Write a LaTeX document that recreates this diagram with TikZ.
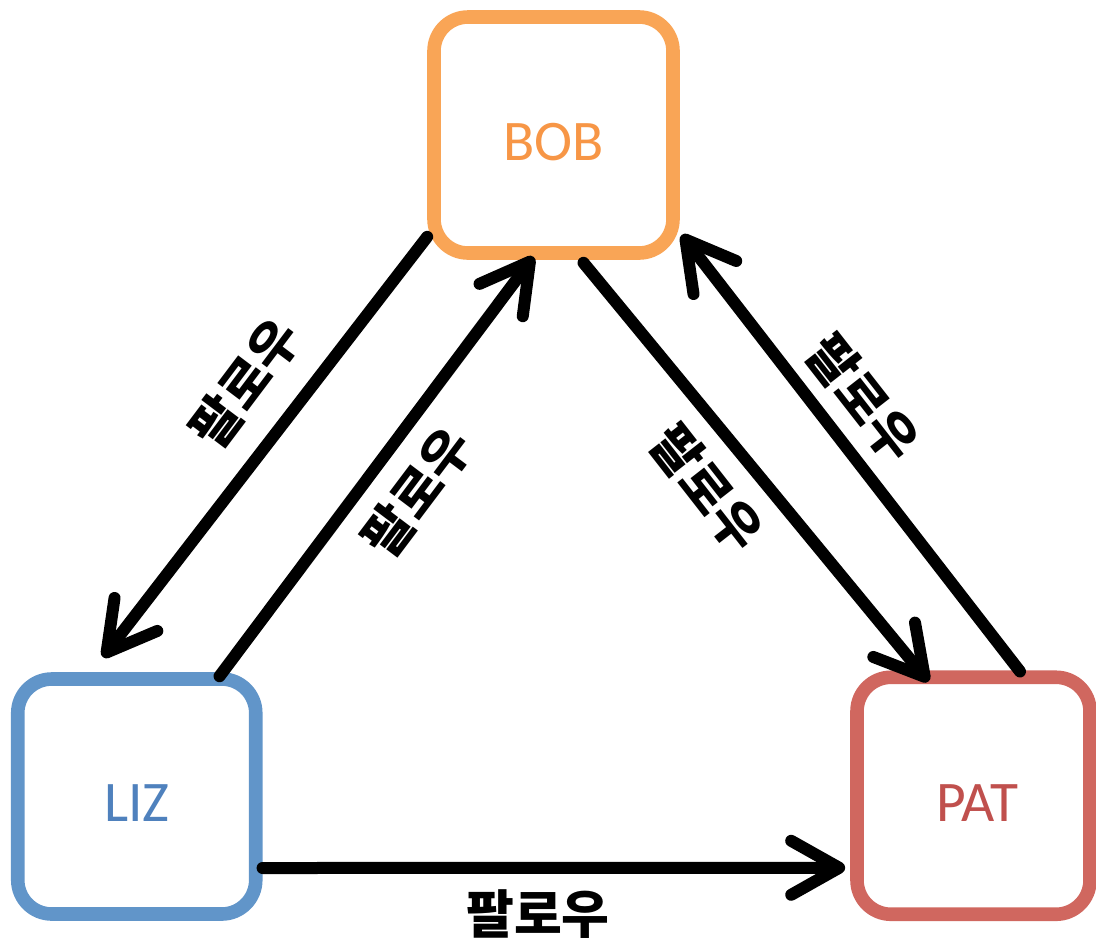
\documentclass[tikz,border=0pt]{standalone}
\usepackage{fontspec}
\setmainfont{Carlito}
\newfontfamily\kr{Noto Sans CJK KR}
\usetikzlibrary{arrows.meta,calc}
\definecolor{bobline}{HTML}{F9A556}
\definecolor{bobtext}{HTML}{F79646}
\definecolor{lizline}{HTML}{6195C9}
\definecolor{liztext}{HTML}{4F81BD}
\definecolor{patline}{HTML}{D0675F}
\definecolor{pattext}{HTML}{C0504D}
\tikzset{
  person/.style={draw, rectangle, rounded corners=17pt, line width=6.8pt, fill=white, inner sep=0pt},
  who/.style={font=\fontsize{28.7pt}{30pt}\selectfont, yshift=-3.5pt},
  rel/.style={line width=6pt, black, line cap=round,
    -{Straight Barb[length=24pt, width=27pt, line cap=round, line join=round]}},
  follow/.style={font=\kr\bfseries\fontsize{26pt}{28pt}\selectfont, inner sep=0pt}
}
\begin{document}
\begin{tikzpicture}[x=0.5pt, y=-0.5pt]
\useasboundingbox (0,0) rectangle (1096,939);
\node[person, draw=bobline, minimum width=119.5pt, minimum height=118pt,
  label={[who, text=bobtext]center:BOB}] (bob) at (553.5,135) {};
\node[person, draw=lizline, minimum width=119pt, minimum height=117.5pt,
  label={[who, text=liztext]center:LIZ}] (liz) at (136.75,796.5) {};
\node[person, draw=patline, minimum width=116.5pt, minimum height=118.5pt,
  label={[who, text=pattext, xshift=2pt]center:PAT}] (pat) at (973.5,795.75) {};

\draw[rel] ($(bob.south west)+(0,-23)$) -- ($(liz.north west)+(92,-15)$);
\draw[rel] ($(liz.north east)+(-43,4)$) -- ($(bob.south)+(-20,-3)$);
\draw[rel] ($(bob.south)+(30,3)$) -- ($(pat.north)+(-45,11)$);
\draw[rel] ($(pat.north)+(46.5,1)$) -- ($(bob.south east)+(2,-25)$);
\draw[rel] ($(liz.east)+(0,71.5)$) -- ($(pat.west)+(-5,72)$);

\node[follow, rotate=53] (l1) at (245,383) {팔로우};
\node[follow, rotate=53] (l2) at (417,492) {팔로우};
\node[follow, rotate=-52] (l3) at (707,488) {팔로우};
\node[follow, rotate=-52] (l4) at (863,398) {팔로우};
\node[follow] (l5) at (538,914) {팔로우};
\end{tikzpicture}
\end{document}
